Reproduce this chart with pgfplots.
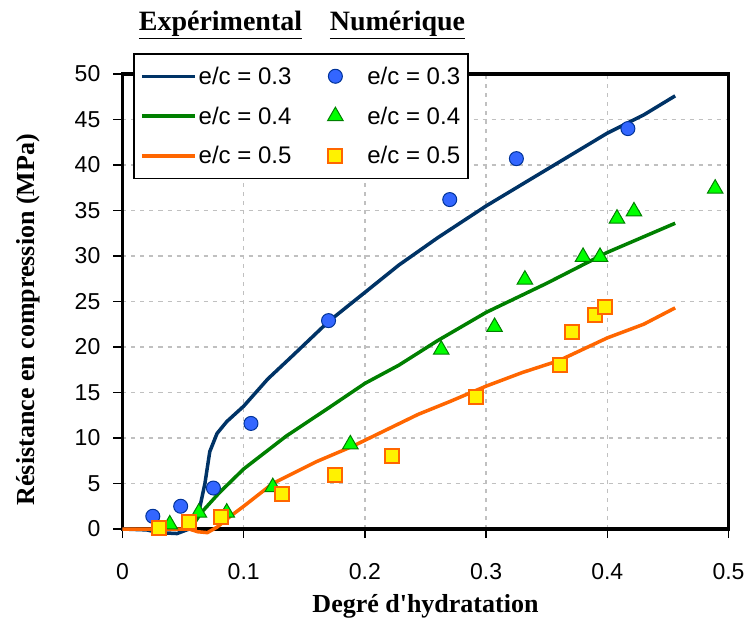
\documentclass[border=0pt]{standalone}
\usepackage{fontspec}
\setmainfont{Liberation Serif}
\newfontfamily\serifb{Liberation Serif}
\newfontfamily\sansf{Liberation Sans}
\usepackage{pgfplots}
\pgfplotsset{compat=1.18}
\definecolor{navyline}{HTML}{003366}
\definecolor{greenline}{HTML}{008000}
\definecolor{orangeline}{HTML}{FF6600}
\definecolor{bluemark}{HTML}{3366FF}
\definecolor{markedge}{HTML}{003399}
\definecolor{greenmark}{HTML}{00FF00}
\definecolor{gridgray}{HTML}{C0C0C0}

\pgfplotsset{
    lineleg/.style={legend image code/.code={\draw[##1] (0pt,0pt) -- (53pt,0pt);}},
    markleg/.style={legend image code/.code={\path[draw=none,fill=none] (0pt,0pt) -- (48pt,0pt);
        \draw[mark repeat=2,mark phase=2,##1] plot coordinates {(0pt,0pt) (18pt,0pt) (36pt,0pt)};}},
}

\begin{document}
\begin{tikzpicture}
\begin{axis}[
    at={(0pt,0pt)}, anchor=south west,
    scale only axis, width=606pt, height=455pt,
    xmin=0, xmax=0.5, ymin=0, ymax=50,
    xtick={0,0.1,0.2,0.3,0.4,0.5},
    xticklabels={0,0.1,0.2,0.3,0.4,0.5},
    ytick={0,5,10,15,20,25,30,35,40,45,50},
    grid=major,
    grid style={gridgray, line width=1.3pt, dash pattern=on 4pt off 5pt},
    axis line style={line width=3.5pt},
    tick align=outside, xtick pos=bottom, ytick pos=left,
    major tick length=9pt,
    tick style={black, line width=1.5pt},
    tick label style={font=\sansf\fontsize{23}{23}\selectfont},
    /pgf/number format/assume math mode=true,
    xticklabel style={anchor=center, yshift=-34pt},
    yticklabel style={anchor=east, inner sep=0pt, xshift=-13pt},
    xlabel={Degré d'hydratation},
    ylabel={Résistance en compression (MPa)},
    label style={font=\serifb\bfseries\fontsize{26}{26}\selectfont},
    xlabel style={at={(axis description cs:0.5,-0.171)}, anchor=center},
    ylabel style={at={(axis description cs:-0.155,0.46)}, anchor=center},
    clip=false,
    legend columns=2,
    legend cell align=left,
    legend style={at={(0.018,1.046)}, anchor=north west, draw=black,
        line width=1.5pt, fill=white, inner xsep=6pt, inner ysep=11pt,
        font=\sansf\fontsize{24}{24}\selectfont, row sep=17pt,
        /tikz/every even column/.append style={column sep=24pt}},
]

\addplot[navyline, line width=3.5pt, lineleg]
coordinates {
    (0,0)(0.02,-0.1)(0.03,-0.4)(0.045,-0.5)(0.055,0)(0.06,1)(0.064,2.5)
    (0.068,5)(0.072,8.5)(0.078,10.5)(0.086,11.8)(0.1,13.5)(0.12,16.5)
    (0.14,19)(0.17,22.8)(0.2,26)(0.228,29)(0.26,32)(0.3,35.5)(0.35,39.5)
    (0.4,43.5)(0.43,45.5)(0.456,47.6)
};
\addlegendentry{e/c = 0.3}

\addplot[only marks, mark=*, mark size=7pt,
    mark options={fill=bluemark, draw=markedge, line width=1pt}, markleg]
coordinates {
    (0.025,1.4)(0.048,2.5)(0.075,4.5)(0.106,11.6)(0.17,22.9)
    (0.27,36.2)(0.325,40.7)(0.417,44.0)
};
\addlegendentry{e/c = 0.3}

\addplot[greenline, line width=3.5pt, lineleg]
coordinates {
    (0.055,0)(0.06,0.8)(0.065,1.8)(0.08,4)(0.1,6.6)(0.135,10.2)(0.17,13.3)
    (0.2,16)(0.228,18)(0.26,20.7)(0.3,23.8)(0.35,27)(0.4,30.4)(0.456,33.6)
};
\addlegendentry{e/c = 0.4}

\addplot[only marks, mark=triangle*, mark size=9pt,
    mark options={fill=greenmark, draw=greenline, line width=1pt}, markleg]
coordinates {
    (0.039,0.5)(0.063,1.8)(0.086,1.8)(0.124,4.6)(0.188,9.3)(0.263,19.7)
    (0.307,22.2)(0.332,27.4)(0.38,29.9)(0.394,29.9)(0.408,34.1)
    (0.422,34.9)(0.489,37.4)
};
\addlegendentry{e/c = 0.4}

\addplot[orangeline, line width=3.5pt, lineleg]
coordinates {
    (0,0)(0.055,0)(0.062,-0.3)(0.07,-0.4)(0.078,0.2)(0.09,1.5)(0.1,2.5)
    (0.124,5)(0.16,7.4)(0.19,9.1)(0.244,12.6)(0.27,14)(0.3,15.7)
    (0.33,17.2)(0.36,18.5)(0.4,21)(0.43,22.5)(0.456,24.3)
};
\addlegendentry{e/c = 0.5}

\addplot[only marks, mark=square*, mark size=7pt,
    mark options={fill=yellow, draw=orangeline, line width=2pt}, markleg]
coordinates {
    (0.030,0.1)(0.055,0.8)(0.081,1.3)(0.132,3.8)(0.175,5.9)(0.222,8.0)
    (0.292,14.5)(0.361,18.0)(0.371,21.7)(0.39,23.5)(0.398,24.4)
};
\addlegendentry{e/c = 0.5}

\end{axis}
\node[font=\serifb\bfseries\fontsize{28}{28}\selectfont, inner sep=0pt] at (98pt,504pt) {\underline{Expérimental}};
\node[font=\serifb\bfseries\fontsize{28}{28}\selectfont, inner sep=0pt] at (275pt,504pt) {\underline{Numérique}};
\path[use as bounding box] (-122.5pt,-97pt) rectangle (628.5pt,529pt);
\end{tikzpicture}
\end{document}
